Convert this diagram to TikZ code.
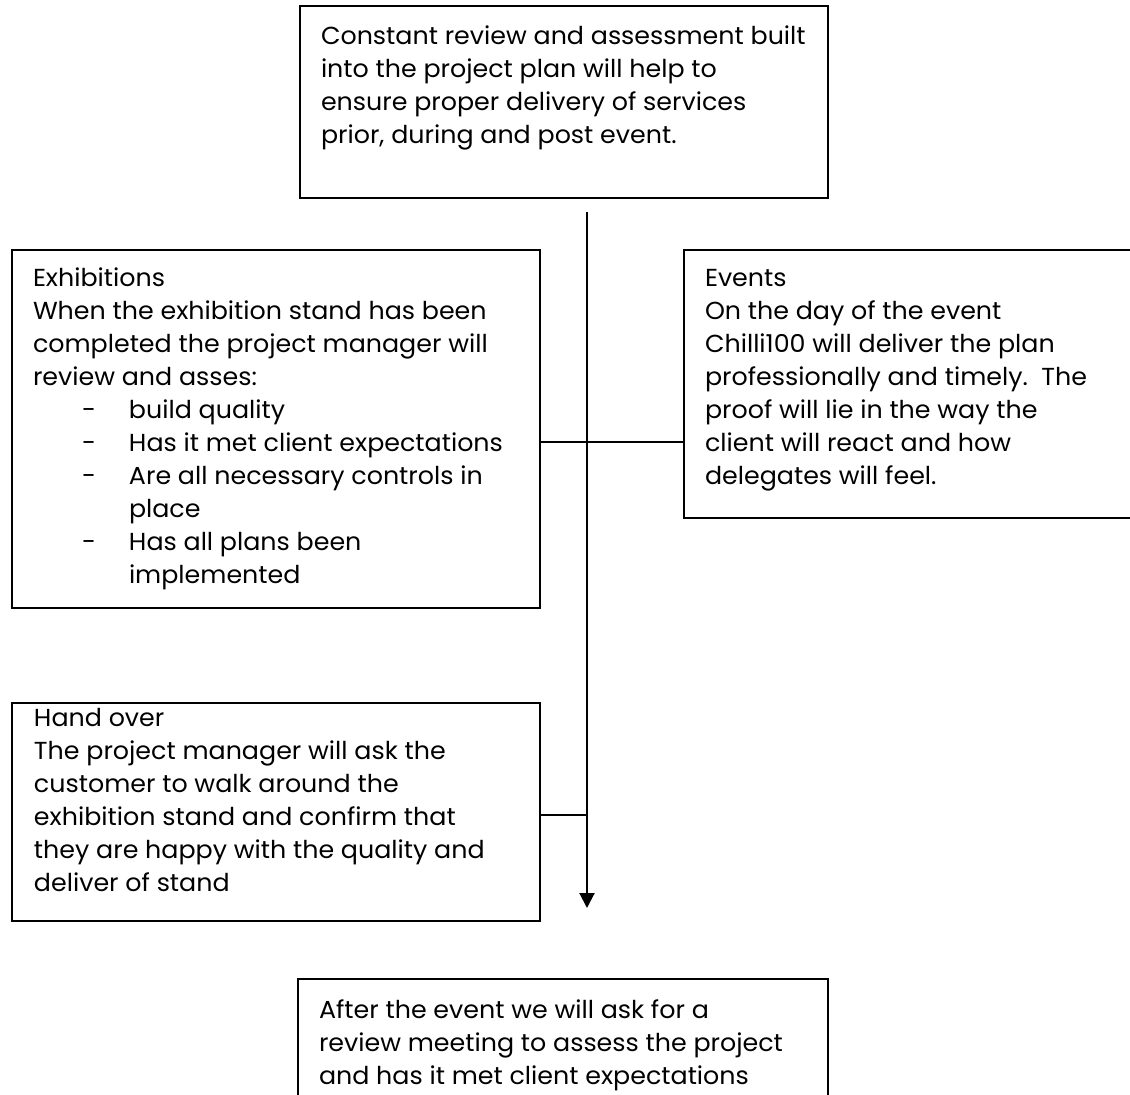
\documentclass[tikz,border=0pt]{standalone}
\usepackage{fontspec}
\setmainfont{Poppins}[FakeStretch=1.03]
\usetikzlibrary{arrows.meta}

\begin{document}
\begin{tikzpicture}[x=1pt, y=-1pt, line width=2pt, %y goes down, 1pt per pixel
  box/.style={draw, rectangle, inner sep=0pt, anchor=north west},
  txt/.style={anchor=north west, inner sep=0pt, align=left, font=\fontsize{24.6}{33}\selectfont}]
\useasboundingbox (0,0) rectangle (1130,1095); %page size
\node[box, minimum width=528pt, minimum height=192pt] (plan) at (299,5) {};
\node[box, minimum width=528pt, minimum height=358pt] (exh) at (11,249) {};
\node[box, minimum width=470pt, minimum height=268pt] (events) at (683,249) {}; %runs off the page
\node[box, minimum width=528pt, minimum height=218pt] (hand) at (11,702) {};
\node[box, minimum width=530pt, minimum height=132pt] (after) at (297,978) {}; %bottom is cut off
\node[txt] (plantext) at ([shift={(21,15)}]plan.north west) {\strut Constant review and assessment built\\into the project plan will help to\\ensure proper delivery of services\\prior, during and post event.};
\node[txt] (exhtext) at ([shift={(21,13)}]exh.north west) {\strut Exhibitions\\When the exhibition stand has been\\completed the project manager will\\review and asses:\\
  \hspace*{49pt}\makebox[47pt][l]{-}build quality\\
  \hspace*{49pt}\makebox[47pt][l]{-}Has it met client expectations\\
  \hspace*{49pt}\makebox[47pt][l]{-}Are all necessary controls in\\
  \hspace*{96pt}place\\
  \hspace*{49pt}\makebox[47pt][l]{-}Has all plans been\\
  \hspace*{96pt}implemented};
\node[txt] (eventstext) at ([shift={(21,13)}]events.north west) {\strut Events\\On the day of the event\\Chilli100 will deliver the plan\\professionally and timely.\ \ The\\proof will lie in the way the\\client will react and how\\delegates will feel.};
\node[txt] (handtext) at ([shift={(22,0)}]hand.north west) {\strut Hand over\\The project manager will ask the\\customer to walk around the\\exhibition stand and confirm that\\they are happy with the quality and\\deliver of stand};
\node[txt] (aftertext) at ([shift={(21,16)}]after.north west) {\strut After the event we will ask for a\\review meeting to assess the project\\and has it met client expectations};
\coordinate (spinetop) at (587,212);
\coordinate (spineend) at (587,908);
\coordinate (link) at (587,442);
\coordinate (handlink) at (587,815);
\draw[-{Triangle[width=15pt,length=15pt]}] (spinetop) -- (spineend);
\draw (exh.east |- link) -- (events.west |- link);
\draw (handlink) -- (handlink -| hand.east);
\end{tikzpicture}
\end{document}
